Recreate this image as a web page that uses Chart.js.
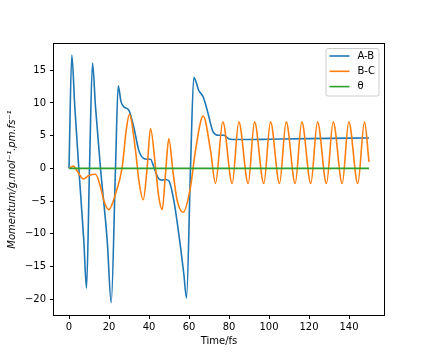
<!DOCTYPE html>
<html>
<head>
<meta charset="utf-8">
<script src="https://cdn.jsdelivr.net/npm/chart.js@4"></script>
<style>
  html, body { margin: 0; padding: 0; background: #fff; }
  #wrap { width: 427px; height: 360px; }
</style>
</head>
<body>
<div id="wrap"><canvas id="momentumChart" width="427" height="360"></canvas></div>
<script>
// A-B momentum (time in fs)
const abTime = [0, 1.4, 2.9, 4.9, 7.4, 8.75, 10.25, 11.75, 13.25, 15.75, 19.1, 21.1, 23.25, 24.6, 26, 27.4, 29.9,
  32.4, 34.9, 37.4, 39, 40.75, 42.4, 44.9, 46.6, 48.3, 49.9, 52.4, 55.75, 57.4, 58.75, 60.75, 62.4, 64.9,
  67.1, 69.1, 72.1, 74.9, 77.4, 80, 84, 90, 100, 120, 150];
const abMomentum = [0, 17.3, 9.4, 0, -11, -18.3, 0, 16.1, 9.4, 0, -11, -20.5, 0, 12.6, 10.2, 9.4, 8.9,
  6.3, 2.75, 1.5, 1.4, 1.4, 0.2, -1.6, -1.8, -1.7, -1.9, -4.9, -12, -16.1, -19.8, 0, 13.9, 11.9,
  10.9, 8.9, 5.55, 5.05, 5.05, 4.5, 4.4, 4.4, 4.45, 4.55, 4.65];

// B-C momentum
const bcTime = [0, 2.1, 4.5, 7.1, 10, 13.25, 15.75, 17.4, 19.9, 23.25, 26.6, 28.6, 30.2, 33.25, 34.9, 37.1,
  39.1, 40.75, 43.25, 44.9, 46.6, 48.25, 49.9, 52.1, 54.1, 57.1, 60.75, 63.25, 67.1, 70.75, 73.25,
  76.9, 81.6, 84.9, 89.6, 92.75, 97.4, 100.75, 105.25, 108.6, 113.1, 116.4, 120.9, 124.25, 128.75,
  132.1, 136.6, 139.9, 144.4, 147.75, 150];
const bcMomentum = [0, 0.35, -0.6, -1.6, -1.1, -0.9, -2.85, -4.9, -6.3, -3.9, 0.2, 5.8, 8.25, 2.75, -1.8, -4.8,
  0.2, 6.1, 0.2, -4.4, -6.3, -0.8, 4.5, -0.8, -4.9, -6.7, -2.85, 2.75, 8.0, 2.75, -2.3,
  7.1, -2.3, 7.1, -2.3, 7.1, -2.3, 7.1, -2.3, 7.1, -2.3, 7.1, -2.3, 7.1, -2.3,
  7.1, -2.3, 7.1, -2.3, 7.1, 1.0];

// theta
const thetaTime = [0, 150];
const thetaMomentum = [0, 0];

const seriesLabels = ["A-B", "B-C", "θ"];
const seriesColors = ["#1f77b4", "#ff7f0e", "#2ca02c"];

const xTicks = [0, 20, 40, 60, 80, 100, 120, 140];
const yTicks = [-20, -15, -10, -5, 0, 5, 10, 15];

const toPoints = (xs, ys) => xs.map((x, i) => ({ x: x, y: ys[i] }));
const fmt = v => (v < 0 ? "\u2212" + Math.abs(v) : String(v));

// cadre complet autour de la zone de tracé
const framePlugin = {
  id: "frame",
  afterDatasetsDraw(chart) {
    const a = chart.chartArea;
    const ctx = chart.ctx;
    ctx.save();
    ctx.strokeStyle = "#000";
    ctx.lineWidth = 1;
    ctx.strokeRect(a.left - 0.5, a.top - 0.5, a.right - a.left + 1, a.bottom - a.top + 1);
    ctx.restore();
  }
};

// légende façon matplotlib, en haut à droite
const legendPlugin = {
  id: "mplLegend",
  afterDraw(chart) {
    const ctx = chart.ctx;
    const a = chart.chartArea;
    const x0 = a.right - 58, y0 = a.top + 4.5, w = 53, h = 47.5;
    ctx.save();
    ctx.fillStyle = "rgba(255,255,255,0.8)";
    ctx.strokeStyle = "#cccccc";
    ctx.lineWidth = 1;
    ctx.beginPath();
    ctx.roundRect(x0, y0, w, h, 2);
    ctx.fill();
    ctx.stroke();
    ctx.font = "10px 'DejaVu Sans'";
    ctx.textBaseline = "middle";
    ctx.fillStyle = "#000";
    chart.data.datasets.forEach((ds, i) => {
      const y = y0 + 7.5 + i * 15.3;
      ctx.strokeStyle = ds.borderColor;
      ctx.lineWidth = 1.6;
      ctx.beginPath();
      ctx.moveTo(x0 + 3.5, y);
      ctx.lineTo(x0 + 23.5, y);
      ctx.stroke();
      ctx.fillText(ds.label, x0 + 31.5, y);
    });
    ctx.restore();
  }
};

Chart.defaults.font.family = "'DejaVu Sans'";
Chart.defaults.font.size = 10;
Chart.defaults.color = "#000";

const ctx = document.getElementById("momentumChart").getContext("2d");
new Chart(ctx, {
  type: "line",
  data: {
    datasets: [
      { label: seriesLabels[0], data: toPoints(abTime, abMomentum), borderColor: seriesColors[0], order: 3 },
      { label: seriesLabels[1], data: toPoints(bcTime, bcMomentum), borderColor: seriesColors[1], order: 2 },
      { label: seriesLabels[2], data: toPoints(thetaTime, thetaMomentum), borderColor: seriesColors[2], order: 1 }
    ]
  },
  options: {
    responsive: false,
    animation: false,
    devicePixelRatio: 1,
    layout: { padding: { top: 44, right: 43, left: 0, bottom: 0 } },
    elements: {
      point: { radius: 0 },
      line: { borderWidth: 1.6, cubicInterpolationMode: "monotone", fill: false }
    },
    plugins: { legend: { display: false }, tooltip: { enabled: false } },
    scales: {
      x: {
        type: "linear",
        min: -7.5,
        max: 157.5,
        afterBuildTicks: s => { s.ticks = xTicks.map(v => ({ value: v })); },
        afterFit: s => { s.height = 45; },
        ticks: { callback: fmt, padding: 2, maxRotation: 0, autoSkip: false },
        grid: { drawOnChartArea: false, tickLength: 4, color: "#000" },
        border: { display: false },
        title: { display: true, text: "Time/fs", padding: { top: 0, bottom: 13 } }
      },
      y: {
        type: "linear",
        min: -22.4,
        max: 19.0,
        afterBuildTicks: s => { s.ticks = yTicks.map(v => ({ value: v })); },
        afterFit: s => { s.width = 54; },
        ticks: { callback: fmt, padding: 4, autoSkip: false },
        grid: { drawOnChartArea: false, tickLength: 4, color: "#000" },
        border: { display: false },
        title: {
          display: true,
          text: "Momentum/g.mol⁻¹.pm.fs⁻¹",
          font: { style: "italic" },
          padding: { top: 6, bottom: 0 }
        }
      }
    }
  },
  plugins: [framePlugin, legendPlugin]
});
</script>
</body>
</html>
